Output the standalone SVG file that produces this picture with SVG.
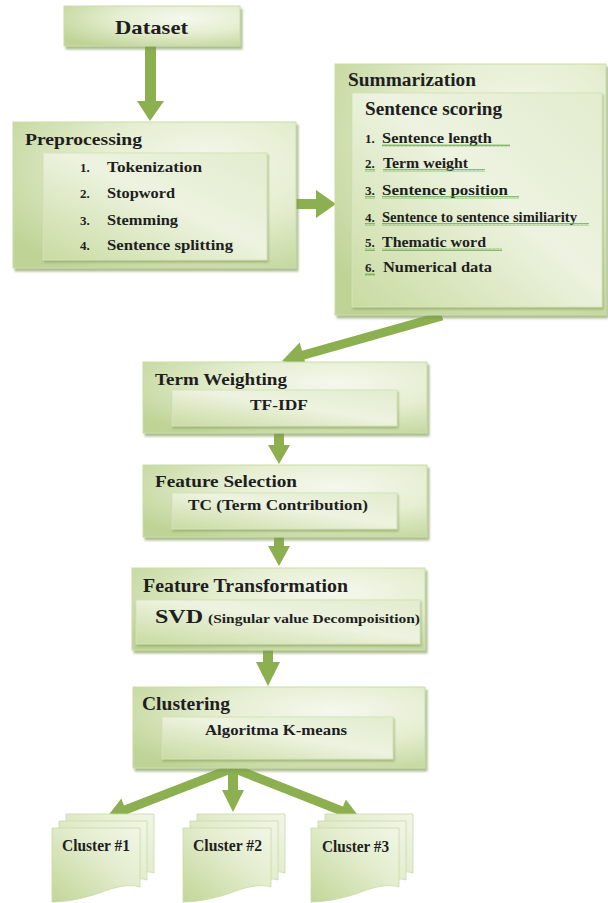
<svg xmlns="http://www.w3.org/2000/svg" width="608" height="903" viewBox="0 0 608 903">
<defs>
<radialGradient id="go" cx="0.68" cy="0.3" r="0.85">
<stop offset="0" stop-color="#f5f8ee"/>
<stop offset="0.45" stop-color="#e5eed0"/>
<stop offset="1" stop-color="#bed395"/>
</radialGradient>
<linearGradient id="gi" x1="0" y1="1" x2="1" y2="0">
<stop offset="0" stop-color="#c9dba1"/>
<stop offset="0.55" stop-color="#edf3e0"/>
<stop offset="1" stop-color="#e2ecce"/>
</linearGradient>
<linearGradient id="gp" x1="0" y1="1" x2="1" y2="0">
<stop offset="0" stop-color="#c2d698"/>
<stop offset="0.6" stop-color="#e4edcf"/>
<stop offset="1" stop-color="#f1f6e6"/>
</linearGradient>
<filter id="sh" x="-10%" y="-10%" width="125%" height="130%">
<feDropShadow dx="2" dy="3" stdDeviation="1.2" flood-color="#7f9a55" flood-opacity="0.65"/>
</filter>
<filter id="shi" x="-10%" y="-10%" width="125%" height="140%">
<feDropShadow dx="1" dy="2" stdDeviation="0.8" flood-color="#8aa55e" flood-opacity="0.7"/>
</filter>
<pattern id="wave" width="4" height="3" patternUnits="userSpaceOnUse">
<path d="M0,2.5 L1,0.5 L2,2.5 L3,0.5 L4,2.5" fill="none" stroke="#5fa040" stroke-width="0.7"/>
</pattern>
<path id="doc" d="M0,0 H88 V59 C78,56 66,58 50,64 C34,70 16,74 0,74 Z"/>
</defs>
<style>
.o{fill:url(#go);stroke:#cbdcaa;stroke-width:1;filter:url(#sh)}
.i{fill:url(#gi);stroke:#d5e3bb;stroke-width:1;filter:url(#shi)}
.t{font-family:"Liberation Serif","DejaVu Serif",serif;font-weight:bold;fill:#1e1e1e}
.a{fill:#8cb04f}
.pg{fill:url(#gp);stroke:#c8daa6;stroke-width:0.8}
.w{fill:url(#wave)}
</style>
<rect width="608" height="903" fill="#ffffff"/>

<g id="connectors">
<polygon class="a" points="145,46 156,46 156,101 164,101 150,121 137,101 145,101"/>
<polygon class="a" points="296,199 316,199 316,190 336,204 316,218 316,209 296,209"/>
<polygon class="a" points="443.2,320.3 304.4,359.4 306.7,367.6 282,361 299.7,342.5 302.0,350.7 440.8,311.7"/>
<polygon class="a" points="274,433 284,433 284,445 290,445 279,464 268,445 274,445"/>
<polygon class="a" points="274,537 284,537 284,546 290,546 279,566 268,546 274,546"/>
<polygon class="a" points="263,650 273,650 273,662 280,662 268,686 256,662 263,662"/>
<polygon class="a" points="228,768 238,768 238,790 244,790 233,812 222,790 228,790"/>
<polygon class="a" points="229.6,774.2 127.3,814.0 130.0,821.0 107,817 121.3,798.6 124.0,805.6 226.4,765.8"/>
<polygon class="a" points="236.4,774.2 339.7,814.9 337.0,821.9 360,818 345.8,799.5 343.0,806.5 239.6,765.8"/>
</g>

<g id="dataset">
<rect class="o" x="64" y="6" width="176" height="40"/>
<text class="t" x="115" y="34" font-size="19" textLength="73" lengthAdjust="spacingAndGlyphs">Dataset</text>
</g>

<g id="preprocessing">
<rect class="o" x="13" y="122" width="283" height="146"/>
<rect class="i" x="43" y="153" width="224" height="107"/>
<text class="t" x="25" y="145" font-size="17" textLength="117" lengthAdjust="spacingAndGlyphs">Preprocessing</text>
<text class="t" x="80" y="172" font-size="13">1.</text>
<text class="t" x="107" y="172" font-size="15" textLength="95" lengthAdjust="spacingAndGlyphs">Tokenization</text>
<text class="t" x="80" y="198" font-size="13">2.</text>
<text class="t" x="107" y="198" font-size="15" textLength="68" lengthAdjust="spacingAndGlyphs">Stopword</text>
<text class="t" x="80" y="225" font-size="13">3.</text>
<text class="t" x="107" y="225" font-size="15" textLength="71" lengthAdjust="spacingAndGlyphs">Stemming</text>
<text class="t" x="80" y="250" font-size="13">4.</text>
<text class="t" x="107" y="250" font-size="15" textLength="126" lengthAdjust="spacingAndGlyphs">Sentence splitting</text>
</g>

<g id="summarization">
<rect class="o" x="335" y="64" width="271" height="251"/>
<rect class="i" x="352" y="93" width="250" height="214"/>
<text class="t" x="348" y="86" font-size="18" textLength="128" lengthAdjust="spacingAndGlyphs">Summarization</text>
<text class="t" x="365" y="115" font-size="18" textLength="137" lengthAdjust="spacingAndGlyphs">Sentence scoring</text>
<text class="t" x="365" y="143" font-size="13">1.</text>
<text class="t" x="382" y="143" font-size="15" textLength="110" lengthAdjust="spacingAndGlyphs">Sentence length</text>
<rect class="w" x="382" y="144" width="128" height="3"/>
<text class="t" x="365" y="168" font-size="13">2.</text>
<text class="t" x="383" y="168" font-size="15" textLength="85" lengthAdjust="spacingAndGlyphs">Term weight</text>
<rect class="w" x="365" y="169" width="10" height="3"/>
<rect class="w" x="383" y="169" width="102" height="3"/>
<text class="t" x="365" y="195" font-size="13">3.</text>
<text class="t" x="382" y="195" font-size="15" textLength="126" lengthAdjust="spacingAndGlyphs">Sentence position</text>
<rect class="w" x="365" y="196" width="10" height="3"/>
<rect class="w" x="382" y="196" width="137" height="3"/>
<text class="t" x="365" y="222" font-size="13">4.</text>
<text class="t" x="382" y="222" font-size="15" textLength="195" lengthAdjust="spacingAndGlyphs">Sentence to sentence similiarity</text>
<rect class="w" x="365" y="223" width="10" height="3"/>
<rect class="w" x="382" y="223" width="207" height="3"/>
<text class="t" x="365" y="247" font-size="13">5.</text>
<text class="t" x="382" y="247" font-size="15" textLength="104" lengthAdjust="spacingAndGlyphs">Thematic word</text>
<rect class="w" x="365" y="248" width="10" height="3"/>
<rect class="w" x="382" y="248" width="120" height="3"/>
<text class="t" x="365" y="272" font-size="13">6.</text>
<text class="t" x="383" y="272" font-size="15" textLength="109" lengthAdjust="spacingAndGlyphs">Numerical data</text>
<rect class="w" x="365" y="273" width="10" height="3"/>
</g>

<g id="term-weighting">
<rect class="o" x="143" y="362" width="284" height="71"/>
<rect class="i" x="172" y="390" width="225" height="36"/>
<text class="t" x="155" y="385" font-size="17" textLength="132" lengthAdjust="spacingAndGlyphs">Term Weighting</text>
<text class="t" x="250" y="410" font-size="14" textLength="58" lengthAdjust="spacingAndGlyphs">TF-IDF</text>
</g>

<g id="feature-selection">
<rect class="o" x="143" y="465" width="284" height="72"/>
<rect class="i" x="172" y="493" width="225" height="36"/>
<text class="t" x="155" y="487" font-size="17" textLength="142" lengthAdjust="spacingAndGlyphs">Feature Selection</text>
<text class="t" x="188" y="510" font-size="14" textLength="180" lengthAdjust="spacingAndGlyphs">TC (Term Contribution)</text>
</g>

<g id="feature-transformation">
<rect class="o" x="132" y="568" width="293" height="82"/>
<rect class="i" x="136" y="600" width="284" height="44"/>
<text class="t" x="143" y="592" font-size="18" textLength="205" lengthAdjust="spacingAndGlyphs">Feature Transformation</text>
<text class="t" x="155" y="623" font-size="19" textLength="48" lengthAdjust="spacingAndGlyphs">SVD</text>
<text class="t" x="208" y="623" font-size="13" textLength="212" lengthAdjust="spacingAndGlyphs">(Singular value Decompoisition)</text>
</g>

<g id="clustering">
<rect class="o" x="133" y="687" width="292" height="81"/>
<rect class="i" x="162" y="717" width="231" height="42"/>
<text class="t" x="142" y="710" font-size="18" textLength="88" lengthAdjust="spacingAndGlyphs">Clustering</text>
<text class="t" x="205" y="735" font-size="15" textLength="142" lengthAdjust="spacingAndGlyphs">Algoritma K-means</text>
</g>

<g id="cluster-1">
<use href="#doc" class="pg" x="66" y="814"/>
<use href="#doc" class="pg" x="59" y="821"/>
<use href="#doc" class="pg" x="52" y="828"/>
<text class="t" x="62" y="851" font-size="17" textLength="68" lengthAdjust="spacingAndGlyphs">Cluster #1</text>
</g>

<g id="cluster-2">
<use href="#doc" class="pg" x="197" y="814"/>
<use href="#doc" class="pg" x="190" y="821"/>
<use href="#doc" class="pg" x="183" y="828"/>
<text class="t" x="193" y="851" font-size="17" textLength="69" lengthAdjust="spacingAndGlyphs">Cluster #2</text>
</g>

<g id="cluster-3">
<use href="#doc" class="pg" x="325" y="814"/>
<use href="#doc" class="pg" x="318" y="821"/>
<use href="#doc" class="pg" x="311" y="828"/>
<text class="t" x="322" y="852" font-size="17" textLength="67" lengthAdjust="spacingAndGlyphs">Cluster #3</text>
</g>
</svg>
